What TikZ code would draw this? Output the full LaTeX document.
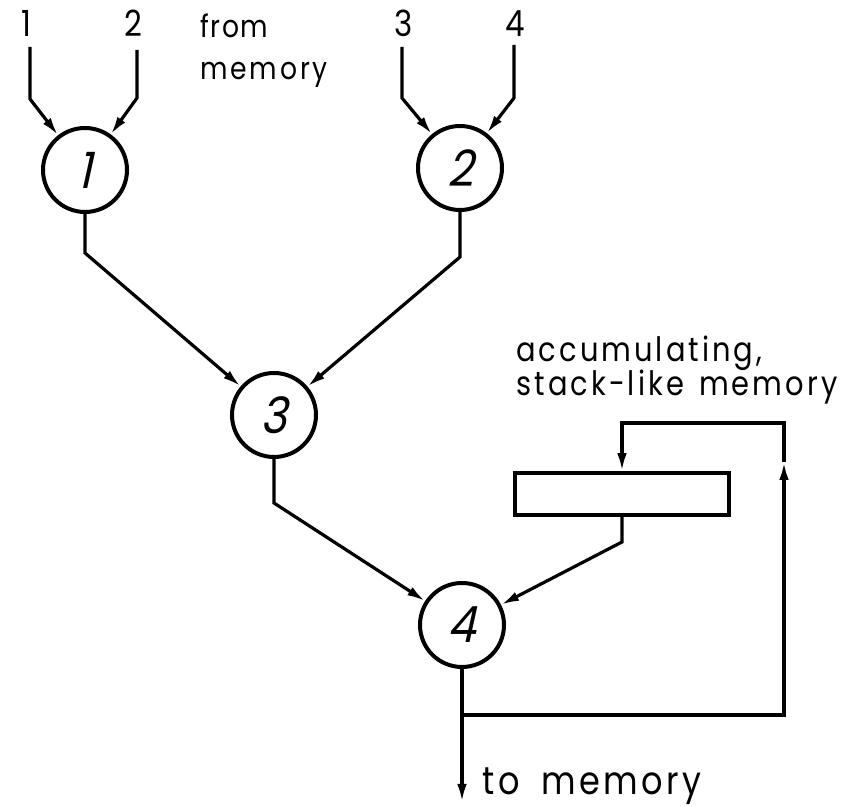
\documentclass[tikz,border=0pt]{standalone}
\usepackage{fontspec}
\setmainfont{Poppins}[FakeStretch=0.86,LetterSpace=9]
\newfontfamily\numfont{Poppins}[FakeSlant=0.22,FakeStretch=0.9]
\usetikzlibrary{arrows.meta}

% two lines of text whose baselines lie a fixed distance apart
\newcommand\twolines[3]{\vtop{\lineskiplimit=-100pt\baselineskip=#1\hbox{#2}\hbox{#3}}}

\begin{document}
\begin{tikzpicture}[x=0.5pt,y=-0.5pt,
  wire/.style={line width=1.6pt},
  tip/.style={-{Latex[length=9pt,width=4.8pt]}},
  opnode/.style={circle,draw,line width=2pt,minimum size=42pt,inner sep=0pt,
    font=\numfont\fontsize{25}{25}\selectfont},
  inlabel/.style={inner sep=0pt,anchor=base,font=\fontsize{18}{18}\selectfont},
  note/.style={inner sep=0pt,anchor=base west},
  stackbox/.style={draw,line width=1.8pt,minimum width=107pt,minimum height=21pt,inner sep=0pt}]
\useasboundingbox (0,0) rectangle (859,806);

% operand labels
\node[inlabel] (l1) at (26,37) {1};
\node[inlabel] (l2) at (133,37) {2};
\node[inlabel] (l3) at (404,37) {3};
\node[inlabel] (l4) at (515,37) {4};

\node[note,font=\fontsize{15.5}{15.5}\selectfont] (frommem) at (200,38)
  {\twolines{21pt}{f\hspace{0.05em}r\hspace{0.05em}o\hspace{0.05em}m}{memory}};

% operation nodes
\node[opnode] (n1) at (85,170) {1};
\node[opnode] (n2) at (460,168) {2};
\node[opnode] (n3) at (274,415) {3};
\node[opnode] (n4) at (462,625) {4};

% stack memory
\node[stackbox] (box) at (622,494) {};
\node[note,font=\fontsize{16.8}{16.8}\selectfont] (acc) at (516,362)
  {\twolines{17pt}{accumulating,}{stack-like\hspace{0.45em}memory}};

% inputs
\coordinate (t1) at (30,47);  \coordinate (b1) at (30,99);
\coordinate (t2) at (137,50); \coordinate (b2) at (137,98);
\coordinate (t3) at (402,47); \coordinate (b3) at (402,98);
\coordinate (t4) at (514,45); \coordinate (b4) at (514,98);
\draw[wire,tip] (t1) -- (b1) -- (n1);
\draw[wire,tip] (t2) -- (b2) -- (n1);
\draw[wire,tip] (t3) -- (b3) -- (n2);
\draw[wire,tip] (t4) -- (b4) -- (n2);

% tree of operations
\coordinate (k1) at (85,253);
\coordinate (k2) at (460,257);
\coordinate (k3) at (274,503);
\coordinate (k4) at (622,542);
\draw[wire,tip] (n1.south) -- (k1) -- (n3);
\draw[wire,tip] (n2.south) -- (k2) -- (n3);
\draw[wire,tip] (n3.south) -- (k3) -- (n4);
\draw[wire,tip] (box.south) -- (k4) -- (n4);

% result and feedback loop
\coordinate (out) at (462,802);
\coordinate (j) at (462,715);
\coordinate (rb) at (784,715);
\coordinate (up) at (784,462);
\coordinate (rt) at (784,423);
\coordinate (lt) at (622,423);
\draw[wire,tip] (n4.south) -- (out);
\draw[wire,tip] (j) -- (rb) -- (up);
\draw[wire,tip] (up) -- (rt) -- (lt) -- (box.north);
\node[note,font=\fontsize{19.5}{19.5}\selectfont] (tomem) at (482,795) {to\hspace{0.55em}memory};
\end{tikzpicture}
\end{document}
